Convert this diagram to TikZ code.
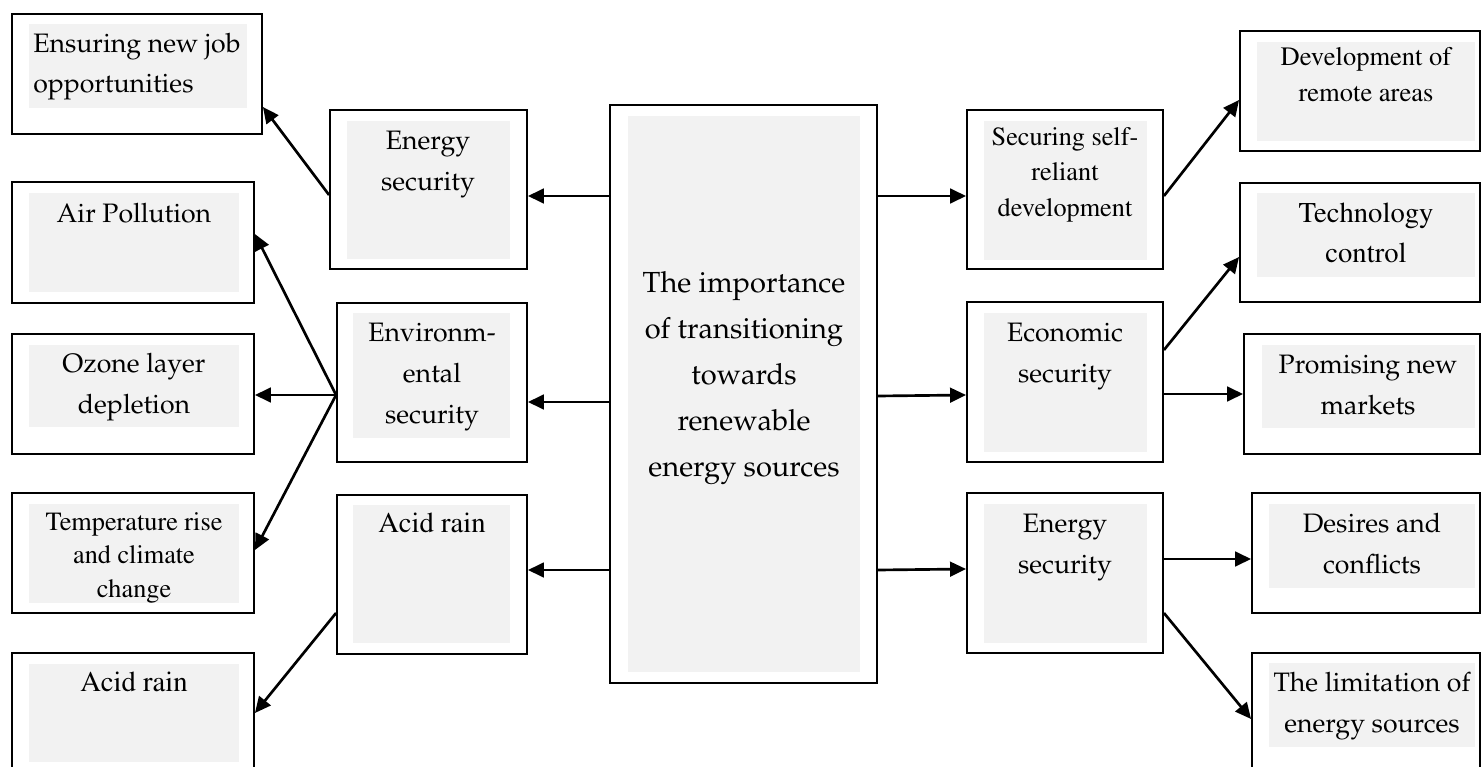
\documentclass[tikz,border=0pt]{standalone}
\usepackage[T1]{fontenc}
\renewcommand{\rmdefault}{ppl}
\usetikzlibrary{arrows.meta,fit}
\definecolor{panelgrey}{HTML}{F2F2F2}
\newcommand{\timesfont}{\fontfamily{ptm}\selectfont}

\begin{document}
\begin{tikzpicture}[x=0.75pt,y=-0.75pt,
  outline/.style={draw=black, line width=1.4pt, inner sep=0pt},
  shade/.style={fill=panelgrey},
  % text nodes sit on the baseline of their last line
  pal/.style={font=\fontsize{20}{30.5}\selectfont, align=center, inner sep=0pt, anchor=base},
  tms/.style={font=\timesfont\fontsize{19.7}{26}\selectfont, align=center, inner sep=0pt, anchor=base},
  link/.style={line width=2pt, -{Triangle[length=12pt,width=11pt]}}]

\fill[white] (0,0) rectangle (1482,767);
\useasboundingbox (0,0) rectangle (1482,767);

% ---------- left column ----------
\node[outline, fit={(12,14) (262,134)}] (ens) {};
\fill[shade] (29,24) rectangle (247,108);
\node[pal, anchor=base west, align=left, font=\fontsize{20}{30}\selectfont] (ens-t) at (33,93) {Ensuring new job\\opportunities};

\node[outline, fit={(12,182) (254,303)}] (air) {};
\fill[shade] (29,193) rectangle (239,292);
\node[pal] (air-t) at (134,222) {Air Pollution};

\node[outline, fit={(12,334) (254,454)}] (ozone) {};
\fill[shade] (29,345) rectangle (239,427);
\node[pal] (ozone-t) at (134,413) {Ozone layer\\depletion};

\node[outline, fit={(12,493) (254,613)}] (temp) {};
\fill[shade] (29,504) rectangle (239,603);
\node[tms, font=\timesfont\fontsize{19.7}{25}\selectfont] (temp-t) at (134,597) {Temperature rise\\and climate\\change};

\node[outline, fit={(12,653) (254,775)}] (acidL) {};
\fill[shade] (29,664) rectangle (239,762);
\node[tms, font=\timesfont\fontsize{21.5}{26}\selectfont] (acidL-t) at (134,691) {Acid rain};

% ---------- inner left column ----------
\node[outline, fit={(330,110) (527,269)}] (enL) {};
\fill[shade] (347,121) rectangle (510,259);
\node[pal] (enL-t) at (428,190) {Energy\\security};

\node[outline, fit={(337,303) (527,462)}] (env) {};
\fill[shade] (353,313) rectangle (510,438);
\node[pal] (env-t) at (432,423) {Environm-\\ental\\security};

\node[outline, fit={(337,495) (527,654)}] (acidM) {};
\fill[shade] (353,505) rectangle (510,643);
\node[tms, font=\timesfont\fontsize{21.5}{26}\selectfont] (acidM-t) at (432,532) {Acid rain};

% ---------- centre ----------
\node[outline, fit={(610,105) (877,683)}] (mid) {};
\fill[shade] (628,116) rectangle (860,672);
\node[pal, font=\fontsize{21.8}{34.5}\selectfont] (mid-t) at (744,476) {The importance\\of transitioning\\towards\\renewable\\energy sources};

% ---------- inner right column ----------
\node[outline, fit={(967,110) (1163,269)}] (secure) {};
\fill[shade] (984,121) rectangle (1147,260);
\node[tms, font=\timesfont\fontsize{19.7}{26.5}\selectfont] (secure-t) at (1065,216) {Securing self-\\reliant\\development};

\node[outline, fit={(967,302) (1163,462)}] (econ) {};
\fill[shade] (984,313) rectangle (1147,452);
\node[pal] (econ-t) at (1065,382) {Economic\\security};

\node[outline, fit={(967,493) (1163,653)}] (enR) {};
\fill[shade] (984,504) rectangle (1147,643);
\node[pal] (enR-t) at (1065,573) {Energy\\security};

% ---------- right column ----------
\node[outline, fit={(1240,31) (1480,151)}] (dev) {};
\fill[shade] (1257,42) rectangle (1475,141);
\node[tms, font=\timesfont\fontsize{19.9}{27.5}\selectfont] (dev-t) at (1366,102) {Development of\\remote areas};

\node[outline, fit={(1240,183) (1480,302)}] (tech) {};
\fill[shade] (1257,193) rectangle (1475,277);
\node[tms, font=\timesfont\fontsize{21.5}{30}\selectfont] (tech-t) at (1366,262) {Technology\\control};

\node[outline, fit={(1244,334) (1480,454)}] (prom) {};
\fill[shade] (1262,345) rectangle (1475,428);
\node[pal] (prom-t) at (1368,414) {Promising new\\markets};

\node[outline, fit={(1252,493) (1480,613)}] (des) {};
\fill[shade] (1269,504) rectangle (1475,588);
\node[pal] (des-t) at (1372,573) {Desires and\\conflicts};

\node[outline, fit={(1252,653) (1480,775)}] (lim) {};
\fill[shade] (1269,663) rectangle (1475,747);
\node[pal] (lim-t) at (1372,732) {The limitation of\\energy sources};

% ---------- connectors ----------
\draw[link] (mid.west |- 0,196) -- (enL.east |- 0,196);
\draw[link] (mid.west |- 0,402) -- (env.east |- 0,402);
\draw[link] (mid.west |- 0,570) -- (acidM.east |- 0,570);
\draw[link] (mid.east |- 0,196) -- (secure.west |- 0,196);
\draw[link] (mid.east |- 0,396) -- (econ.west |- 0,395);
\draw[link] (mid.east |- 0,570) -- (enR.west |- 0,569);

\draw[link] (enL.west |- 0,195) -- (ens.east |- 0,107);
\draw[link] (env.west |- 0,395) -- (air.east |- 0,234);
\draw[link] (env.west |- 0,395) -- (ozone.east |- 0,395);
\draw[link] (env.west |- 0,395) -- (temp.east |- 0,550);
\draw[link] (acidM.west |- 0,613) -- (acidL.east |- 0,713);

\draw[link] (secure.east |- 0,196) -- (dev.west |- 0,100);
\draw[link] (econ.east |- 0,350) -- (tech.west |- 0,257);
\draw[link] (econ.east |- 0,394) -- (prom.west |- 0,394);
\draw[link] (enR.east |- 0,559) -- (des.west |- 0,559);
\draw[link] (enR.east |- 0,613) -- (lim.west |- 0,719);
\end{tikzpicture}
\end{document}
